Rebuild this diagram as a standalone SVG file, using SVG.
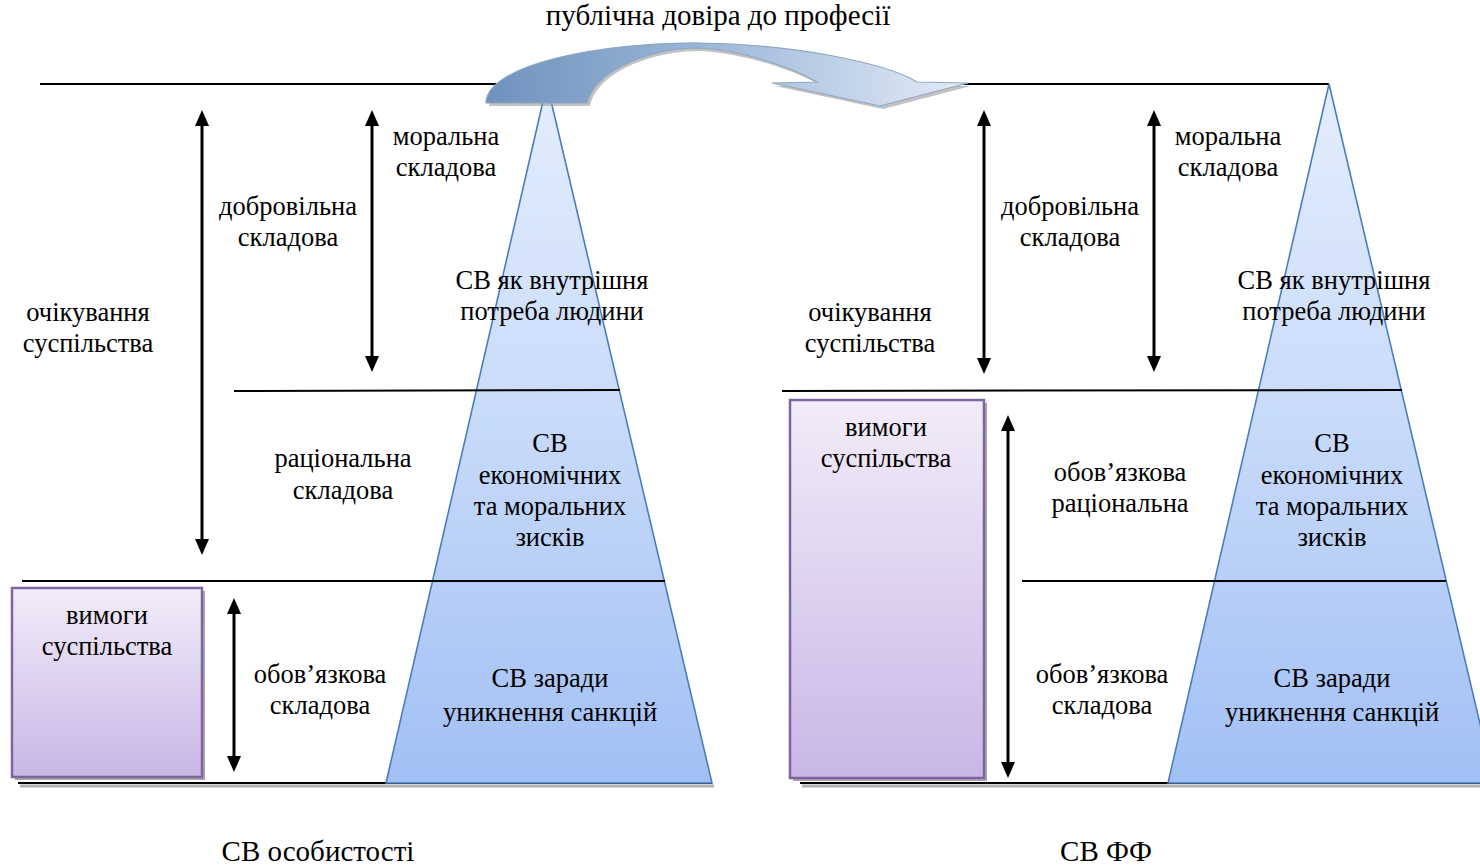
<svg xmlns="http://www.w3.org/2000/svg" width="1480" height="868" viewBox="0 0 1480 868">
<defs>
<linearGradient id="tri" x1="0" y1="0" x2="0" y2="1">
<stop offset="0" stop-color="#e4edfc"/>
<stop offset="0.45" stop-color="#cadcfa"/>
<stop offset="1" stop-color="#a2c0f4"/>
</linearGradient>
<linearGradient id="box" x1="0" y1="0" x2="0" y2="1">
<stop offset="0" stop-color="#f1ecf9"/>
<stop offset="1" stop-color="#c9b7e5"/>
</linearGradient>
<linearGradient id="curve" x1="0" y1="0" x2="1" y2="0">
<stop offset="0" stop-color="#6f92bd"/>
<stop offset="0.45" stop-color="#9bb6d8"/>
<stop offset="1" stop-color="#e3ecf7"/>
</linearGradient>
<marker id="ah" viewBox="0 0 16 14" refX="6" refY="7" markerWidth="16" markerHeight="14" markerUnits="userSpaceOnUse" orient="auto-start-reverse">
<path d="M0,0 L16,7 L0,14 z" fill="#000"/>
</marker>
</defs>
<style>
text{font-family:"Liberation Serif","Times New Roman",serif;font-size:26.5px;fill:#000;text-anchor:middle}
text.big{font-size:29px}
.hl{stroke:#000;stroke-width:2;fill:none}
.sh{stroke:#b0b0b0;stroke-width:3;fill:none}
.arr{stroke:#000;stroke-width:3;fill:none;marker-start:url(#ah);marker-end:url(#ah)}
.tri{fill:url(#tri);stroke:#4a7ebb;stroke-width:1.6}
.box{fill:url(#box);stroke:#8064a2;stroke-width:2.5}
.boxsh{fill:#a8a8a8}
</style>

<g id="guides">
<line class="sh" x1="20" y1="786" x2="714" y2="786"/>
<line class="sh" x1="802" y1="786" x2="1480" y2="786"/>
<line class="hl" x1="40" y1="84" x2="500" y2="84"/>
<line class="hl" x1="955" y1="84" x2="1329" y2="84"/>
<line class="hl" x1="18" y1="783" x2="712" y2="783"/>
<line class="hl" x1="800" y1="783" x2="1480" y2="783"/>
</g>

<g id="pyramid-left">
<polygon class="tri" points="547,84 712,783 386,783"/>
</g>
<g id="pyramid-right">
<polygon class="tri" points="1329,84 1494,783 1168,783"/>
</g>

<g id="levels">
<line class="hl" x1="234" y1="391" x2="620" y2="390"/>
<line class="hl" x1="22" y1="581" x2="665" y2="581"/>
<line class="hl" x1="782" y1="391" x2="1402" y2="390"/>
<line class="hl" x1="1022" y1="581" x2="1446" y2="581"/>
</g>

<g id="box-left">
<rect class="boxsh" x="15" y="591" width="190" height="189"/>
<rect class="box" x="12" y="588" width="190" height="189"/>
<text x="107" y="624">вимоги</text>
<text x="107" y="655">суспільства</text>
</g>
<g id="box-right">
<rect class="boxsh" x="793" y="403" width="194" height="378"/>
<rect class="box" x="790" y="400" width="194" height="378"/>
<text x="886" y="436">вимоги</text>
<text x="886" y="467">суспільства</text>
</g>

<g id="curved-arrow">
<path d="M489,106 C489,68 600,45 700,46 C800,47 890,68 920,85 L971,86 L883,109 L775,86 L820,85 C792,69 742,53 700,51 C650,51 597,73 590,106 Z" fill="#9a9a9a" opacity="0.6"/>
<path d="M486,103 C486,65 600,42 700,43 C800,44 890,65 917,82 L968,83 L880,106 L772,83 L817,82 C789,66 740,50 700,48 C650,48 595,70 587,103 Z" fill="url(#curve)" stroke="#8fa6c2" stroke-width="1.2"/>
</g>

<g id="connectors">
<line class="arr" x1="202" y1="120" x2="202" y2="545"/>
<line class="arr" x1="372" y1="120" x2="372" y2="362"/>
<line class="arr" x1="234" y1="608" x2="234" y2="762"/>
<line class="arr" x1="984" y1="120" x2="984" y2="364"/>
<line class="arr" x1="1154" y1="120" x2="1154" y2="362"/>
<line class="arr" x1="1008" y1="425" x2="1008" y2="768"/>
</g>

<g id="labels-left">
<text class="big" x="718" y="25">публічна довіра до професії</text>
<text x="446" y="145">моральна</text>
<text x="446" y="176">складова</text>
<text x="288" y="215">добровільна</text>
<text x="288" y="246">складова</text>
<text x="552" y="289">СВ як внутрішня</text>
<text x="552" y="320">потреба людини</text>
<text x="88" y="321">очікування</text>
<text x="88" y="352">суспільства</text>
<text x="343" y="467">раціональна</text>
<text x="343" y="499">складова</text>
<text x="550" y="452">СВ</text>
<text x="550" y="484">економічних</text>
<text x="550" y="515">та моральних</text>
<text x="550" y="546">зисків</text>
<text x="320" y="683">обов’язкова</text>
<text x="320" y="714">складова</text>
<text x="550" y="687">СВ заради</text>
<text x="550" y="721">уникнення санкцій</text>
<text class="big" x="318" y="861">СВ особистості</text>
</g>

<g id="labels-right">
<text x="1228" y="145">моральна</text>
<text x="1228" y="176">складова</text>
<text x="1070" y="215">добровільна</text>
<text x="1070" y="246">складова</text>
<text x="1334" y="289">СВ як внутрішня</text>
<text x="1334" y="320">потреба людини</text>
<text x="870" y="321">очікування</text>
<text x="870" y="352">суспільства</text>
<text x="1120" y="481">обов’язкова</text>
<text x="1120" y="512">раціональна</text>
<text x="1332" y="452">СВ</text>
<text x="1332" y="484">економічних</text>
<text x="1332" y="515">та моральних</text>
<text x="1332" y="546">зисків</text>
<text x="1102" y="683">обов’язкова</text>
<text x="1102" y="714">складова</text>
<text x="1332" y="687">СВ заради</text>
<text x="1332" y="721">уникнення санкцій</text>
<text class="big" x="1106" y="861">СВ ФФ</text>
</g>
</svg>
